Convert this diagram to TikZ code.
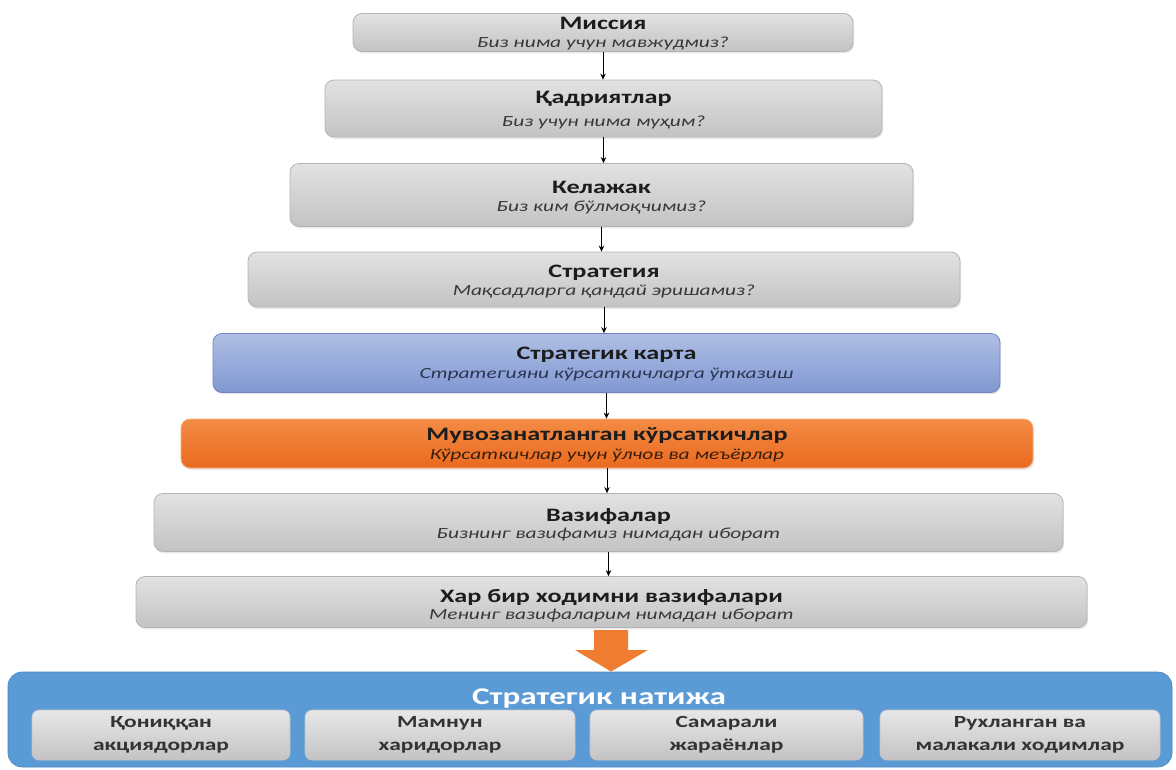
\documentclass[tikz,border=0pt]{standalone}
\usepackage{fontspec}
\setmainfont{Carlito}[FakeStretch=1.38]
\usetikzlibrary{arrows.meta,shadows}

\definecolor{graytop}{HTML}{E2E2E2}
\definecolor{graybot}{HTML}{C3C3C3}
\definecolor{grayline}{HTML}{B4B4B4}
\definecolor{bluetop}{HTML}{AFBEE4}
\definecolor{bluebot}{HTML}{8098D2}
\definecolor{blueline}{HTML}{6E86C0}
\definecolor{orangetop}{HTML}{F38B45}
\definecolor{orangebot}{HTML}{EA6A1E}
\definecolor{orangeline}{HTML}{F6B27E}
\definecolor{arrowor}{HTML}{EE7D31}
\definecolor{panel}{HTML}{5B9BD5}
\definecolor{paneledge}{HTML}{4A86C0}
\definecolor{tittext}{HTML}{1C1C1C}
\definecolor{subtext}{HTML}{383838}
\definecolor{subblue}{HTML}{2B3550}
\definecolor{suborange}{HTML}{3A1E0C}

\begin{document}
\begin{tikzpicture}[x=1pt,y=-1pt,
  box/.style={rounded corners=9pt, line width=0.8pt,
    drop shadow={opacity=0.18, shadow xshift=1.2pt, shadow yshift=-1.8pt}},
  graybox/.style={box, draw=grayline, top color=graytop, bottom color=graybot},
  bluebox/.style={box, draw=blueline, top color=bluetop, bottom color=bluebot},
  orangebox/.style={box, draw=orangeline, top color=orangetop, bottom color=orangebot},
  tline/.style={anchor=base, inner sep=0pt, text=tittext,
    font=\fontsize{19}{21}\selectfont\bfseries},
  sline/.style={anchor=base, inner sep=0pt, text=subtext,
    font=\fontsize{15.5}{18}\selectfont\itshape},
  conn/.style={line width=0.9pt, draw=black,
    -{Stealth[length=6pt,width=5.5pt]}},
  cell/.style={rounded corners=7pt, draw=grayline!80, line width=0.6pt,
    top color=graytop!80!white, bottom color=graybot},
  cline/.style={anchor=base, inner sep=0pt, text=tittext!90!white,
    font=\fontsize{17}{19}\selectfont\bfseries},
]
\path[use as bounding box] (0,0) rectangle (1176,769);

% the pyramid of levels, top to bottom
\node[graybox, minimum width=500pt, minimum height=38pt] (b1) at (603,32.5) {};
\node[graybox, minimum width=557pt, minimum height=57pt] (b2) at (603.5,108.5) {};
\node[graybox, minimum width=623pt, minimum height=63pt] (b3) at (601.5,195) {};
\node[graybox, minimum width=712pt, minimum height=55pt] (b4) at (604,279.5) {};
\node[bluebox, minimum width=787pt, minimum height=59pt] (b5) at (606.5,363) {};
\node[orangebox, minimum width=852pt, minimum height=49pt] (b6) at (607,443.5) {};
\node[graybox, minimum width=909pt, minimum height=58pt] (b7) at (608.5,522.5) {};
\node[graybox, minimum width=951pt, minimum height=51pt] (b8) at (611.5,602) {};

\node[tline] (t1) at (603,29.5) {Миссия};
\node[sline] (s1) at (603,47.5) {Биз нима учун мавжудмиз?};
\node[tline] (t2) at (603.5,103) {Қадриятлар};
\node[sline] (s2) at (603.5,126) {Биз учун нима муҳим?};
\node[tline] (t3) at (601.5,193) {Келажак};
\node[sline] (s3) at (601.5,211) {Биз ким бўлмоқчимиз?};
\node[tline] (t4) at (604,277) {Стратегия};
\node[sline] (s4) at (604,295) {Мақсадларга қандай эришамиз?};
\node[tline] (t5) at (606.5,359) {Стратегик карта};
\node[sline, text=subblue] (s5) at (606.5,378) {Стратегияни кўрсаткичларга ўтказиш};
\node[tline] (t6) at (607,440) {Мувозанатланган кўрсаткичлар};
\node[sline, text=suborange] (s6) at (607,459) {Кўрсаткичлар учун ўлчов ва меъёрлар};
\node[tline] (t7) at (608.5,521) {Вазифалар};
\node[sline] (s7) at (608.5,538) {Бизнинг вазифамиз нимадан иборат};
\node[tline] (t8) at (611.5,602) {Хар бир ходимни вазифалари};
\node[sline] (s8) at (611.5,619) {Менинг вазифаларим нимадан иборат};

% thin connectors between the levels
\foreach \a/\b in {b1/b2,b2/b3,b3/b4,b4/b5,b5/b6,b6/b7,b7/b8}
  \draw[conn] (\a.south) -- (\a.south |- \b.north);

% result panel
\node[rounded corners=14pt, fill=panel, draw=paneledge, line width=0.6pt,
  minimum width=1164pt, minimum height=95pt] (res) at (590,719.5) {};
\node[anchor=base, inner sep=0pt, text=white,
  font=\fontsize{24}{26}\selectfont\bfseries] (rt) at (599,704) {Стратегик натижа};

\node[cell, minimum width=258pt, minimum height=50pt] (c1) at (161,735) {};
\node[cell, minimum width=270pt, minimum height=50pt] (c2) at (440,735) {};
\node[cell, minimum width=273pt, minimum height=50pt] (c3) at (726.5,735) {};
\node[cell, minimum width=280pt, minimum height=50pt] (c4) at (1020,735) {};

\node[cline] (c1a) at (161,727) {Қониққан};
\node[cline] (c1b) at (161,750) {акциядорлар};
\node[cline] (c2a) at (440,727) {Мамнун};
\node[cline] (c2b) at (440,750) {харидорлар};
\node[cline] (c3a) at (726.5,727) {Самарали};
\node[cline] (c3b) at (726.5,750) {жараёнлар};
\node[cline] (c4a) at (1020,727) {Рухланган ва};
\node[cline] (c4b) at (1020,750) {малакали ходимлар};

% broad orange arrow into the result panel
\coordinate (ar1) at (594,630);
\coordinate (ar2) at (628,630);
\coordinate (ar3) at (628,650);
\coordinate (ar4) at (648,650);
\coordinate (ar5) at (611,671.5);
\coordinate (ar6) at (575,650);
\coordinate (ar7) at (594,650);
\fill[arrowor] (ar1) -- (ar2) -- (ar3) -- (ar4) -- (ar5) -- (ar6) -- (ar7) -- cycle;
\end{tikzpicture}
\end{document}
